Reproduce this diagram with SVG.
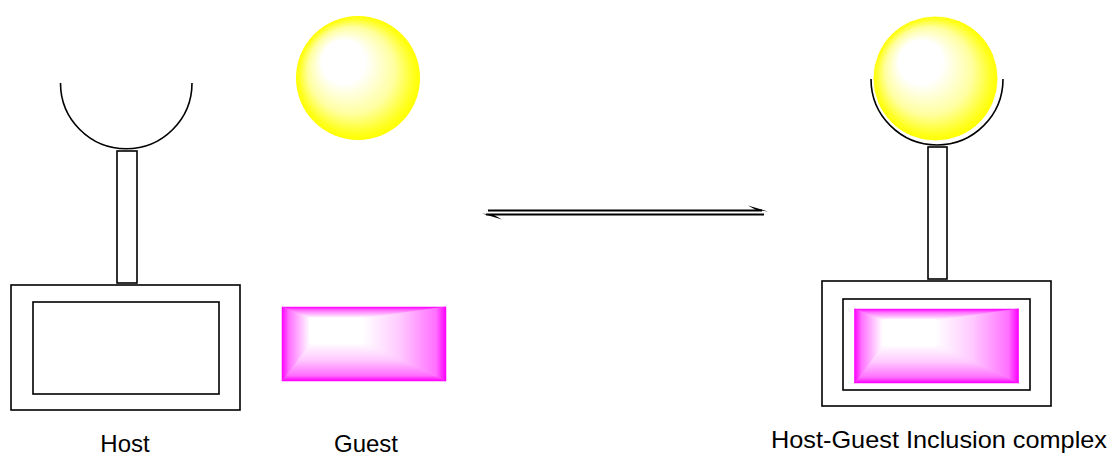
<svg xmlns="http://www.w3.org/2000/svg" xmlns:xlink="http://www.w3.org/1999/xlink" width="1110" height="455" viewBox="0 0 1110 455">
<style>
.ln{fill:none;stroke:#000;stroke-width:1.6}
.bx{fill:#fff;stroke:#000;stroke-width:1.6}
.lbl{font-family:"Liberation Sans",Arial,sans-serif;font-size:24px;fill:#000}
.ar{stroke:#000;stroke-width:2;fill:none}
</style>
<defs>
<radialGradient id="ball" cx="0.5" cy="0.5" r="0.5" fx="0.32" fy="0.3">
<stop offset="0" stop-color="#fff"/>
<stop offset="0.35" stop-color="#fff"/>
<stop offset="0.7" stop-color="#ffffa0"/>
<stop offset="0.92" stop-color="#ffff20"/>
<stop offset="1" stop-color="#ffff00"/>
</radialGradient>
<linearGradient id="gT" gradientUnits="userSpaceOnUse" x1="0" y1="0" x2="0" y2="11">
<stop offset="0" stop-color="#ff00ff"/><stop offset="0.3" stop-color="#ff70ff"/><stop offset="1" stop-color="#fff"/>
</linearGradient>
<linearGradient id="gB" gradientUnits="userSpaceOnUse" x1="0" y1="74" x2="0" y2="36">
<stop offset="0" stop-color="#ff00ff"/><stop offset="0.15" stop-color="#ff70ff"/><stop offset="0.55" stop-color="#ffc8ff"/><stop offset="1" stop-color="#fff"/>
</linearGradient>
<linearGradient id="gL" gradientUnits="userSpaceOnUse" x1="0" y1="0" x2="28" y2="0">
<stop offset="0" stop-color="#ff00ff"/><stop offset="0.25" stop-color="#ff70ff"/><stop offset="1" stop-color="#fff"/>
</linearGradient>
<linearGradient id="gR" gradientUnits="userSpaceOnUse" x1="164" y1="0" x2="81" y2="0">
<stop offset="0" stop-color="#ff00ff"/><stop offset="0.12" stop-color="#ff70ff"/><stop offset="0.55" stop-color="#ffc8ff"/><stop offset="1" stop-color="#fff"/>
</linearGradient>
<g id="mag">
<rect x="0" y="0" width="164" height="74" fill="#ff80ff"/>
<polygon points="0,0 164,0 81,11 28,11" fill="url(#gT)" stroke="url(#gT)" stroke-width="0.5"/>
<polygon points="28,36 81,36 164,74 0,74" fill="url(#gB)" stroke="url(#gB)" stroke-width="0.5"/>
<polygon points="0,0 28,11 28,36 0,74" fill="url(#gL)" stroke="url(#gL)" stroke-width="0.5"/>
<polygon points="81,11 164,0 164,74 81,36" fill="url(#gR)" stroke="url(#gR)" stroke-width="0.5"/>
<rect x="27.5" y="10.5" width="54" height="26" fill="#fff"/>
</g>
</defs>

<g id="host">
<path class="ln" d="M60.5,83 A65.75,65.75 0 0 0 192,83"/>
<rect class="bx" x="117" y="151" width="20" height="132"/>
<rect class="bx" x="11" y="285" width="229" height="125"/>
<rect class="bx" x="33" y="302" width="186" height="92"/>
<text class="lbl" x="125" y="452" text-anchor="middle">Host</text>
</g>

<g id="guest">
<circle cx="358" cy="78" r="62" fill="url(#ball)"/>
<use xlink:href="#mag" href="#mag" x="282" y="307"/>
<text class="lbl" x="366" y="452" text-anchor="middle">Guest</text>
</g>

<g id="complex">
<path class="ln" d="M871,79 A66,66 0 0 0 1003,79"/>
<circle cx="935.5" cy="78.5" r="62.5" fill="url(#ball)" stroke="#fff" stroke-width="1"/>
<rect class="bx" x="928" y="147" width="19" height="132"/>
<rect class="bx" x="822" y="281" width="229" height="125"/>
<rect class="bx" x="843" y="299" width="187" height="91"/>
<use xlink:href="#mag" href="#mag" x="854.5" y="309"/>
<text class="lbl" x="939" y="448" text-anchor="middle" textLength="336" lengthAdjust="spacingAndGlyphs">Host-Guest Inclusion complex</text>
</g>

<g id="connectors">
<line class="ar" x1="488" y1="210.5" x2="762" y2="210.5"/>
<polygon points="748,205.5 768,211.5 756,210" fill="#000"/>
<line class="ar" x1="486" y1="214.5" x2="764" y2="214.5"/>
<polygon points="502,219.5 482,213.5 494,215" fill="#000"/>
</g>
</svg>
